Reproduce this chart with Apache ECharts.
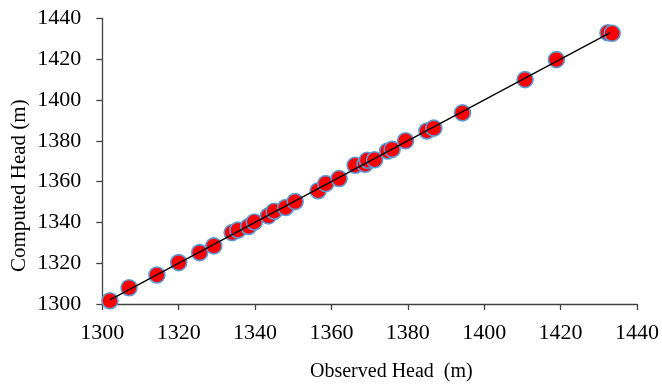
<!DOCTYPE html>
<html>
<head>
<meta charset="utf-8">
<script src="https://cdn.jsdelivr.net/npm/echarts@6/dist/echarts.min.js"></script>
<style>
html,body{margin:0;padding:0;background:#fff;}
#chart{width:662px;height:386px;}
</style>
</head>
<body>
<div id="chart"></div>
<script>
var observedHead = [1302, 1307, 1314.3, 1320, 1325.5, 1329.2, 1334, 1335.5, 1338.3, 1339.8, 1343.5, 1345, 1348, 1350.5, 1356.5, 1358.5, 1362, 1366.2, 1368.8, 1369.4, 1371.3, 1374.7, 1375.9, 1379.4, 1385, 1386.8, 1394.3, 1410.7, 1418.9, 1432.4, 1433.5];
var computedHead = [1301.6, 1308, 1314.2, 1320.3, 1325.2, 1328.5, 1335, 1336.2, 1338, 1340.2, 1343.2, 1345.5, 1347.3, 1350.2, 1355.5, 1359, 1361.5, 1368, 1368.5, 1370.5, 1370.7, 1375, 1375.8, 1380, 1384.8, 1386.2, 1393.7, 1410, 1419.8, 1433, 1432.7];
var lineObserved = [1302, 1433];
var lineComputed = [1302, 1433];
var axisMin = 1300, axisMax = 1440, axisStep = 20;
var xName = 'Observed Head  (m)';
var yName = 'Computed Head (m)';

var font = "'Liberation Serif','Times New Roman',serif";
var pts = observedHead.map(function(v, i){ return [v, computedHead[i]]; });
var linePts = lineObserved.map(function(v, i){ return [v, lineComputed[i]]; });
var plain = function(v){ return String(v); };

var chart = echarts.init(document.getElementById('chart'), null, {renderer:'canvas'});
chart.setOption({
  animation: false,
  backgroundColor: '#fff',
  grid: {left: 102.3, right: 23, top: 18.4, bottom: 82},
  xAxis: {
    type: 'value', min: axisMin, max: axisMax, interval: axisStep,
    axisLine: {show: true, lineStyle: {color: '#404040', width: 1.3}},
    axisTick: {show: true, length: 6, lineStyle: {color: '#404040', width: 1.3}},
    axisLabel: {color: '#000', fontFamily: font, fontSize: 22, margin: 18, formatter: plain},
    splitLine: {show: false}
  },
  yAxis: {
    type: 'value', min: axisMin, max: axisMax, interval: axisStep,
    axisLine: {show: true, lineStyle: {color: '#404040', width: 1.3}},
    axisTick: {show: true, length: 6, lineStyle: {color: '#404040', width: 1.3}},
    axisLabel: {color: '#000', fontFamily: font, fontSize: 22, margin: 21, formatter: plain},
    splitLine: {show: false}
  },
  graphic: [
    {type: 'text', left: 310, top: 362, style: {text: xName, font: '20px ' + font, fill: '#000'}},
    {type: 'text', x: 9, y: 272, rotation: Math.PI/2, style: {text: yName, font: '21px ' + font, fill: '#000'}}
  ],
  series: [
    {
      type: 'scatter', data: pts, symbol: 'circle', symbolSize: 16, z: 2,
      itemStyle: {color: '#ff0000', borderColor: '#5b9bd5', borderWidth: 1.6, opacity: 1}
    },
    {
      type: 'line', data: linePts, symbol: 'none', z: 3,
      lineStyle: {color: '#000', width: 1.3}
    }
  ]
});
</script>
</body>
</html>
